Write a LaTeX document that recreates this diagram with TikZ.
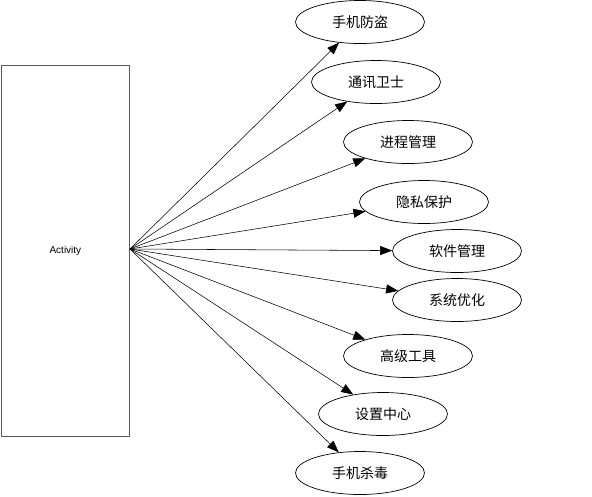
\documentclass[tikz,border=0pt]{standalone}
\usepackage{fontspec}
\setmainfont{Liberation Sans}
\newfontfamily\cjk{Noto Sans CJK SC}
\usetikzlibrary{shapes.geometric,arrows.meta}
\begin{document}
\begin{tikzpicture}[x=1pt,y=-1pt,
  item/.style={draw, ellipse, minimum width=129pt, minimum height=43pt, inner sep=0pt, line width=0.7pt,
    font=\cjk\fontsize{14}{14}\selectfont},
  conn/.style={-{Triangle[length=12pt,width=9pt]}, line width=0.55pt},
]
\useasboundingbox[fill=white] (0,0) rectangle (592,496);
\node[draw=black!65, line width=0.8pt, minimum width=128pt, minimum height=371pt, inner sep=0pt,
  anchor=north west, font=\fontsize{10}{12}\selectfont] (act) at (1,65) {Activity};
\coordinate (src) at (130,249);
\node[item] (e1) at (360,22) {手机防盗};
\node[item] (e2) at (376,82) {通讯卫士};
\node[item] (e3) at (408,142) {进程管理};
\node[item] (e4) at (424,202) {隐私保护};
\node[item] (e5) at (457,251) {软件管理};
\node[item] (e6) at (457,300) {系统优化};
\node[item] (e7) at (408,356) {高级工具};
\node[item] (e8) at (383,414) {设置中心};
\node[item] (e9) at (360,473) {手机杀毒};
\foreach \e in {e1,e2,e3,e4,e5,e6,e7,e8,e9}
  \draw[conn] (src) -- (\e);
\end{tikzpicture}
\end{document}
